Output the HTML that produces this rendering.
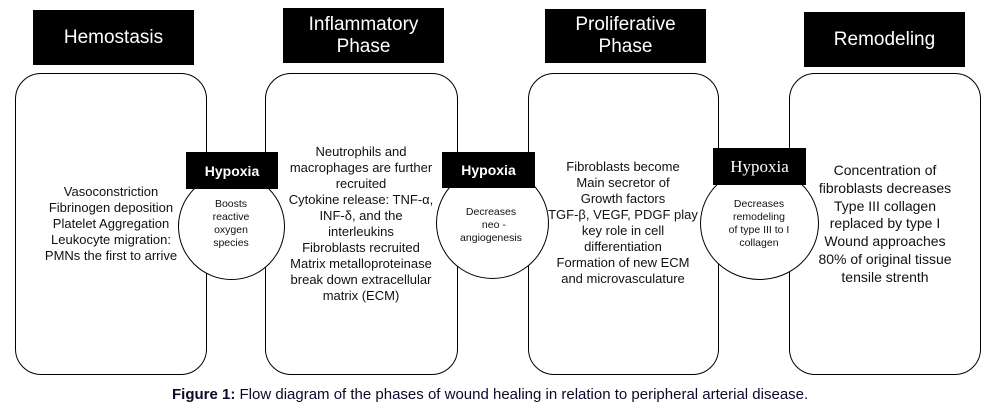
<!DOCTYPE html>
<html><head><meta charset="utf-8"><style>
body{margin:0;width:993px;height:409px;background:#fff;position:relative;overflow:hidden;font-family:"Liberation Sans",Arial,sans-serif;color:#111}
.a{position:absolute}
.hd{position:absolute;background:#000;color:#fff;display:flex;align-items:center;justify-content:center;text-align:center;font-size:19px;line-height:22px}
.bx{position:absolute;border:1.5px solid #000;border-radius:26px;box-sizing:border-box;background:#fff}
.t{position:absolute;text-align:center;font-size:13px;line-height:16px;white-space:nowrap;transform:translateX(-50%)}
.hx{position:absolute;background:#000;color:#fff;display:flex;align-items:center;justify-content:center;font-size:14px;font-weight:bold}
.c{position:absolute;border:1.5px solid #000;border-radius:50%;background:#fff;box-sizing:border-box}
.ct{position:absolute;text-align:center;font-size:10.5px;line-height:13px;white-space:nowrap;transform:translateX(-50%)}
</style></head><body>
<div class="hd" style="left:33px;top:10px;width:161px;height:55px">Hemostasis</div>
<div class="hd" style="left:283px;top:8px;width:161px;height:55px">Inflammatory<br>Phase</div>
<div class="hd" style="left:545px;top:9px;width:161px;height:54px">Proliferative<br>Phase</div>
<div class="hd" style="left:804px;top:12px;width:161px;height:55px">Remodeling</div>

<div class="bx" style="left:15px;top:73px;width:192px;height:302px"></div>
<div class="bx" style="left:265px;top:73px;width:193px;height:302px"></div>
<div class="bx" style="left:528px;top:73px;width:191px;height:302px"></div>
<div class="bx" style="left:789px;top:73px;width:192px;height:302px"></div>

<div class="t" style="left:111px;top:184px">Vasoconstriction<br>Fibrinogen deposition<br>Platelet Aggregation<br>Leukocyte migration:<br>PMNs the first to arrive</div>
<div class="t" style="left:361px;top:144px">Neutrophils and<br>macrophages are further<br>recruited<br>Cytokine release: TNF-α,<br>INF-δ, and the<br>interleukins<br>Fibroblasts recruited<br>Matrix metalloproteinase<br>break down extracellular<br>matrix (ECM)</div>
<div class="t" style="left:623px;top:159px">Fibroblasts become<br>Main secretor of<br>Growth factors<br>TGF-β, VEGF, PDGF play<br>key role in cell<br>differentiation<br>Formation of new ECM<br>and microvasculature</div>
<div class="t" style="left:885px;top:162px;font-size:14px;line-height:17.8px">Concentration of<br>fibroblasts decreases<br>Type III collagen<br>replaced by type I<br>Wound approaches<br>80% of original tissue<br>tensile strenth</div>

<div class="c" style="left:178px;top:173px;width:107px;height:107px"></div>
<div class="c" style="left:436px;top:167px;width:113px;height:112px"></div>
<div class="c" style="left:700px;top:167px;width:119px;height:113px"></div>

<div class="hx" style="left:186px;top:152px;width:92px;height:37px">Hypoxia</div>
<div class="hx" style="left:442px;top:152px;width:93px;height:36px">Hypoxia</div>
<div class="hx" style="left:713px;top:148px;width:93px;height:37px;font-family:'Liberation Serif',serif;font-weight:normal;font-size:17px">Hypoxia</div>

<div class="ct" style="left:231px;top:198px">Boosts<br>reactive<br>oxygen<br>species</div>
<div class="ct" style="left:491px;top:206px">Decreases<br>&nbsp;&nbsp;neo -<br>angiogenesis</div>
<div class="ct" style="left:759px;top:198px">Decreases<br>remodeling<br>of type III to I<br>collagen</div>

<div class="a" style="left:172px;top:386px;font-size:15px;line-height:18px;white-space:nowrap;color:#0a0a2a"><b>Figure 1:</b> Flow diagram of the phases of wound healing in relation to peripheral arterial disease.</div>
</body></html>
